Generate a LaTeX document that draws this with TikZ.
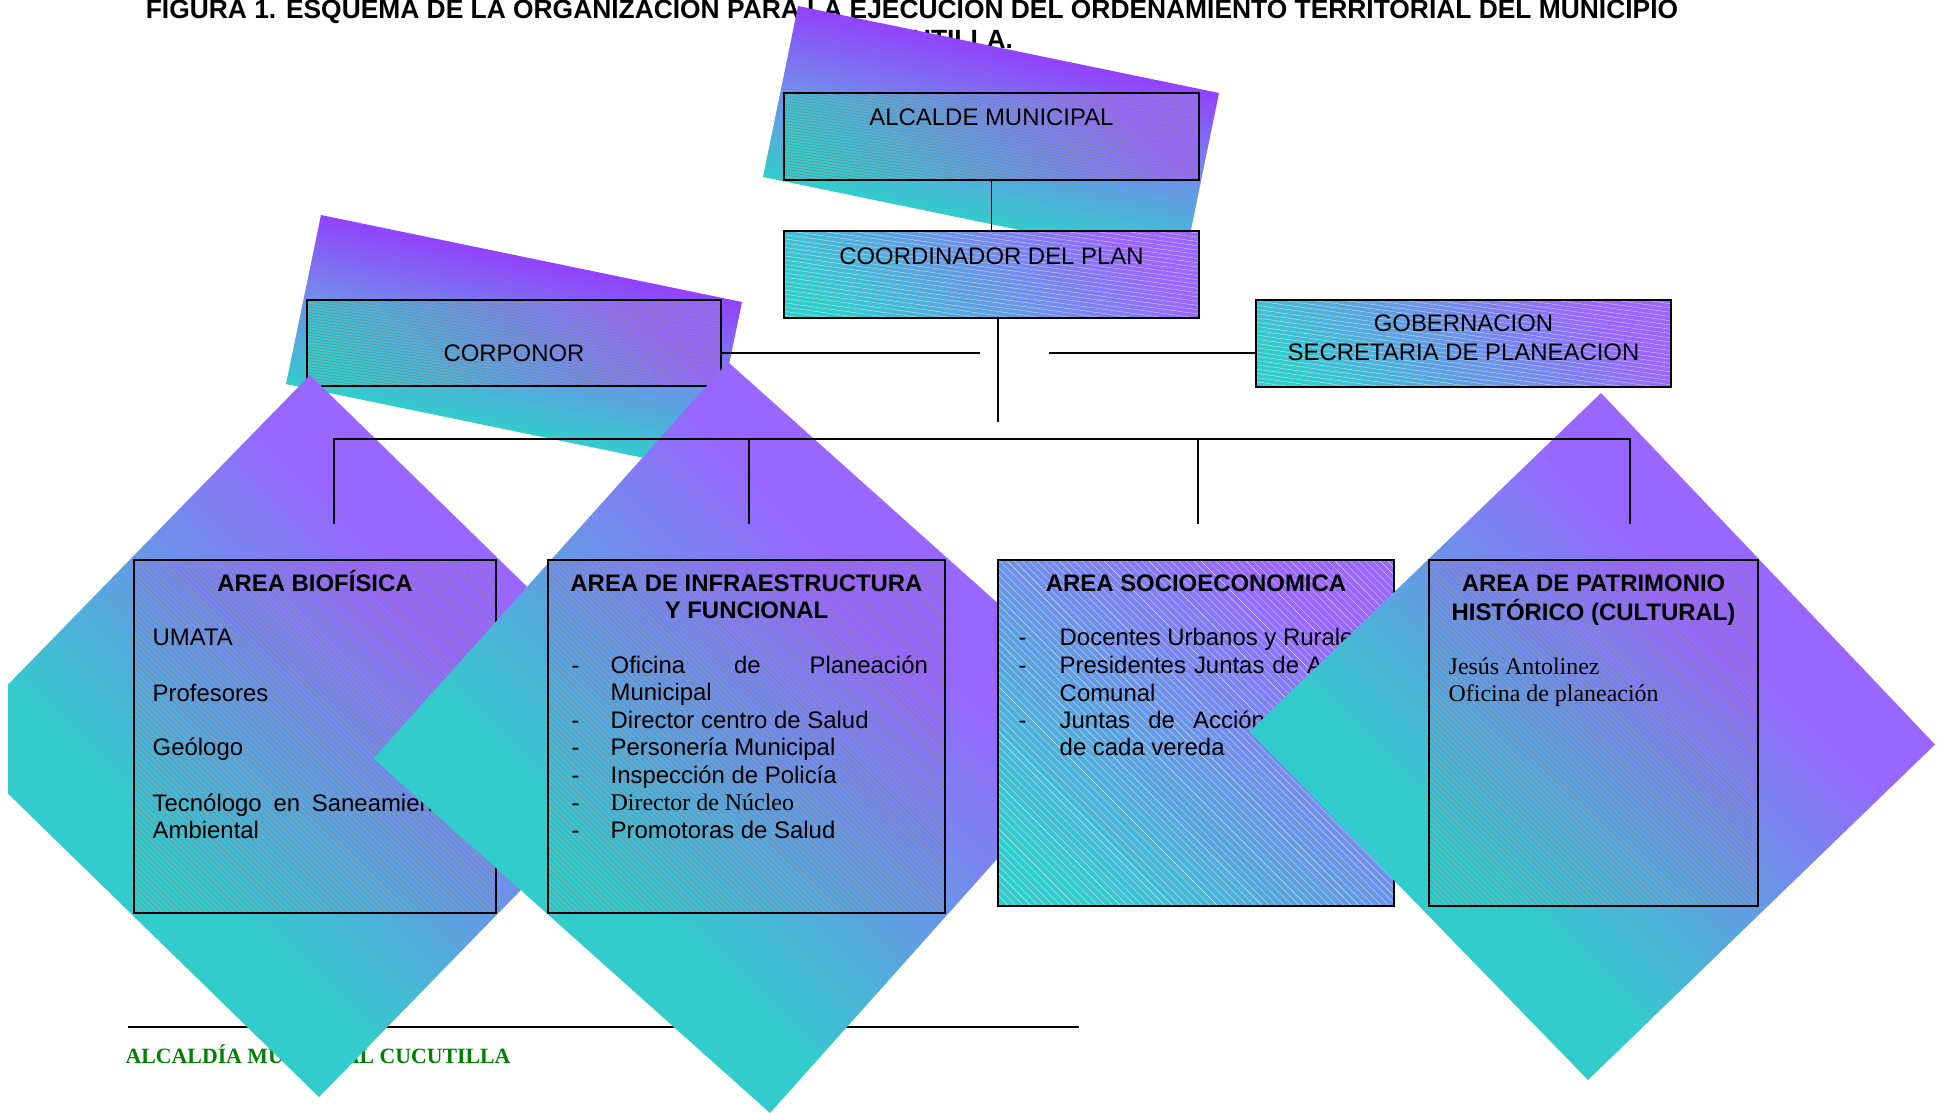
\documentclass[tikz,border=0pt]{standalone}
\usepackage{fontspec}
\setmainfont{Liberation Sans}
\newfontfamily\tnr{Liberation Serif}
\usetikzlibrary{patterns.meta}

\definecolor{violeta}{RGB}{153,102,255}
\definecolor{violetafuerte}{RGB}{153,51,255}
\definecolor{turquesa}{RGB}{51,204,204}
\definecolor{verdepie}{RGB}{0,128,0}

\pgfdeclareverticalshading{degrombo}{100bp}{color(0bp)=(turquesa); color(37bp)=(turquesa);
  color(63bp)=(violeta); color(100bp)=(violeta)}
\pgfdeclareverticalshading{deglamina}{100bp}{color(0bp)=(turquesa); color(35bp)=(turquesa);
  color(50bp)=(violeta!60!turquesa); color(68bp)=(violetafuerte); color(100bp)=(violetafuerte)}
\pgfdeclareverticalshading{degcaja}{100bp}{color(0bp)=(turquesa); color(22bp)=(turquesa);
  color(50bp)=(violeta!55!turquesa); color(72bp)=(violeta); color(100bp)=(violeta)}

\tikzset{
  caja/.style={inner sep=0pt,shade,shading=degcaja,shading angle=-40},
  trama/.style={postaction={pattern={Lines[angle=-45,distance=1.1pt,line width=0.1pt]},pattern color=#1},
    postaction={draw=black,line width=0.5pt}},
  tramaclara/.style={postaction={pattern={Lines[angle=-45,distance=1.5pt,line width=0.06pt]},pattern color=white},
    postaction={draw=black,line width=0.5pt}},
  tramah/.style={postaction={pattern={Lines[angle=-8,distance=0.8pt,line width=0.12pt]},pattern color=black!50},
    postaction={draw=black,line width=0.5pt}},
  tramahclara/.style={postaction={pattern={Lines[angle=-8,distance=1.2pt,line width=0.06pt]},pattern color=white},
    postaction={draw=black,line width=0.5pt}},
  texto/.style={inner sep=0pt,font=\fontsize{6.8}{7.82}\selectfont},
  titulo/.style={inner sep=0pt,font=\bfseries\fontsize{6.8}{7.82}\selectfont},
  rombo/.style={shading=degrombo,shading angle=-45},
  lamina/.style={shading=deglamina,shading angle=-12},
  linea/.style={line width=0.45pt},
}

\begin{document}
\begin{tikzpicture}[x=0.01cm,y=-0.01cm]
  \useasboundingbox (0,0) rectangle (1940,1113);

  % titulo de la figura
  \node[anchor=base,inner sep=0pt,font=\bfseries\fontsize{7.5}{8.5}\selectfont] (titulo) at (912,19)
    {\begin{tabular}[t]{@{}c@{}}FIGURA 1. ESQUEMA DE LA ORGANIZACIÓN PARA LA EJECUCIÓN DEL ORDENAMIENTO TERRITORIAL DEL MUNICIPIO\\ DE CUCUTILLA.\end{tabular}};

  % lamina detras del alcalde
  \shade[lamina] (798,6) -- (1219,93) -- (1184,264) -- (763,177) -- cycle;
  \node[caja,tramah,minimum width=4.15cm,minimum height=0.87cm] (alcalde) at (991.5,136.5) {};
  \node[texto,anchor=base] (alcaldet) at (991.5,126) {ALCALDE MUNICIPAL};
  \node[caja,tramahclara,minimum width=4.15cm,minimum height=0.87cm] (coord) at (991.5,274.5) {};
  \node[texto,anchor=base] (coordt) at (991.5,265) {COORDINADOR DEL PLAN};
  \draw[linea] (alcalde) -- (coord);

  % lamina detras de corponor
  \shade[lamina] (321,215) -- (742,302) -- (707,471) -- (286,384) -- cycle;
  \node[caja,tramah,minimum width=4.14cm,minimum height=0.86cm] (corp) at (514,343) {};
  \node[texto,anchor=base] (corpt) at (514,362) {CORPONOR};
  \node[caja,tramahclara,minimum width=4.15cm,minimum height=0.87cm] (gob) at (1463.5,343.5) {};
  \node[texto,anchor=base] (gobt) at (1463.5,332)
    {\begin{tabular}[t]{@{}c@{}}GOBERNACION\\[0.4pt] SECRETARIA DE PLANEACION\end{tabular}};

  % pie de pagina
  \draw[line width=0.6pt] (128,1027) -- (1079,1027);
  \node[anchor=base west,inner sep=0pt,text=verdepie,font=\tnr\bfseries\fontsize{6.2}{7}\selectfont] (pie) at (125,1063)
    {ALCALDÍA MUNICIPAL CUCUTILLA};

  % area biofisica
  \begin{scope}
    \clip (8,0) rectangle (1940,1113);
    \shade[rombo] (310,375) -- (675.5,731.5) -- (319,1097) -- (-46.5,740.5) -- cycle;
  \end{scope}
  \node[caja,trama=black!50,minimum width=3.62cm,minimum height=3.53cm] (bio) at (315,736.5) {};
  \node[titulo,anchor=base] (biot) at (315,591) {AREA BIOFÍSICA};
  \node[texto,anchor=base west] (biolista) at (152,646)
    {\begin{tabular}[t]{@{}l@{}}UMATA\\ \\ Profesores\\ \\ Geólogo\\ \\
      \makebox[3.0cm][s]{Tecnólogo en Saneamiento}\\ Ambiental\end{tabular}};

  % area de infraestructura
  \shade[rombo] (728,362) -- (1124.5,716.5) -- (770,1113) -- (373.5,758.5) -- cycle;
  \node[caja,trama=black!50,minimum width=3.97cm,minimum height=3.53cm] (infra) at (746.5,736.5) {};
  \node[titulo,anchor=base] (infrat) at (746.5,591)
    {\begin{tabular}[t]{@{}c@{}}AREA DE INFRAESTRUCTURA\\ Y FUNCIONAL\end{tabular}};
  \node[texto,anchor=base west] (infralista) at (571,673)
    {\begin{tabular}[t]{@{}p{0.39cm}@{}l@{}}
      - & \makebox[3.17cm][s]{Oficina de Planeación}\\
        & Municipal\\
      - & Director centro de Salud\\
      - & Personería Municipal\\
      - & Inspección de Policía\\
      {\tnr -} & {\tnr Director de Núcleo}\\
      - & Promotoras de Salud
    \end{tabular}};

  % area socioeconomica
  \node[caja,tramaclara,minimum width=3.96cm,minimum height=3.46cm] (socio) at (1196,733) {};
  \node[titulo,anchor=base] (sociot) at (1196,591) {AREA SOCIOECONOMICA};
  \node[texto,anchor=base west] (sociolista) at (1018,646)
    {\begin{tabular}[t]{@{}p{0.41cm}@{}l@{}}
      - & Docentes Urbanos y Rurales\\
      - & \makebox[3.19cm][s]{Presidentes Juntas de Acción}\\
        & Comunal\\
      - & \makebox[3.19cm][s]{Juntas de Acción Comunal}\\
        & de cada vereda
    \end{tabular}};

  % area de patrimonio
  \shade[rombo] (1601,393) -- (1935,744.5) -- (1588,1080) -- (1249.5,731.5) -- cycle;
  \node[caja,trama=black!50,minimum width=3.29cm,minimum height=3.46cm] (patri) at (1593.5,733) {};
  \node[titulo,anchor=base] (patrit) at (1593.5,591)
    {\begin{tabular}[t]{@{}c@{}}AREA DE PATRIMONIO\\ HISTÓRICO (CULTURAL)\end{tabular}};
  \node[texto,anchor=base west,font=\tnr\fontsize{6.8}{7.9}\selectfont] (patrilista) at (1448,674)
    {\begin{tabular}[t]{@{}l@{}}Jesús Antolinez\\ Oficina de planeación\end{tabular}};

  % conectores
  \coordinate (cruce) at (998,422);
  \coordinate (izq) at (980,353);
  \coordinate (der) at (1049,353);
  \coordinate (barra) at (334,439);
  \coordinate (bajada1) at (334,524);
  \coordinate (bajada2) at (749,524);
  \coordinate (bajada3) at (1198,524);
  \coordinate (bajada4) at (1630,524);
  \draw[linea] (coord.south -| cruce) -- (cruce);
  \draw[linea] (corp.east |- izq) -- (izq);
  \draw[linea] (der) -- (gob.west |- der);
  \draw[linea] (bajada1) |- (bajada4 |- barra) -- (bajada4);
  \draw[linea] (bajada2) -- (bajada2 |- barra);
  \draw[linea] (bajada3) -- (bajada3 |- barra);
\end{tikzpicture}
\end{document}
